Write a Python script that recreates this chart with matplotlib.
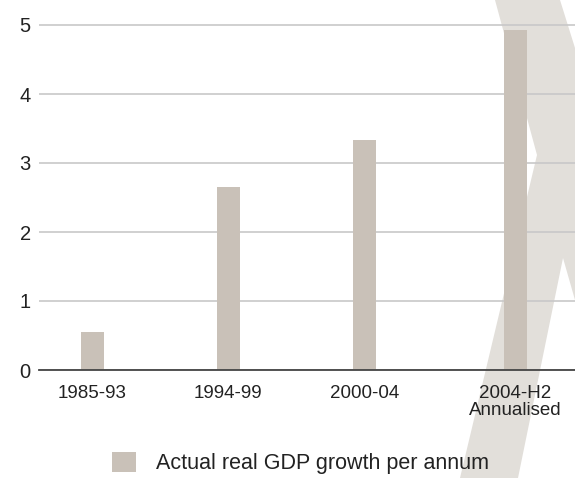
import matplotlib
matplotlib.use("Agg")
import matplotlib.pyplot as plt
from matplotlib.patches import Polygon

PERIODS = ["1985-93", "1994-99", "2000-04", "2004-H2\nAnnualised"]
GROWTH = [0.55, 2.65, 3.33, 4.93]
SERIES = "Actual real GDP growth per annum"

# last category sits a little further right in the original
POS = [0, 1, 2, 3.11]

BAR = "#c9c1b8"
SHAPE = "#e2dfda"
GRID = "#c8c8c8"
INK = "#222222"

plt.rcParams["font.family"] = ["Liberation Sans", "DejaVu Sans"]

W, H = 575, 478
fig = plt.figure(figsize=(W / 100, H / 100), dpi=100)

# background chevron, pixel outline converted to figure fraction
pts = [(495, 0), (560, 0), (575, 48), (575, 300), (563, 258),
       (518, 478), (460, 478), (537, 155)]
poly = Polygon([(x / W, 1 - y / H) for x, y in pts], closed=True,
               transform=fig.transFigure, facecolor=SHAPE, edgecolor="none",
               zorder=-1)
fig.add_artist(poly)

ax = fig.add_axes([39 / W, 1 - 370 / H, 1 - 39 / W, 370 / H])
ax.set_facecolor("none")

bars = ax.bar(POS, GROWTH, width=0.169, color=BAR, zorder=3, label=SERIES)

ax.set_xlim(-0.394, 3.551)
ax.set_ylim(0, 370 / 69)
ax.set_yticks(range(0, 6))
ax.set_xticks(POS)
ax.set_xticklabels(PERIODS, fontsize=13.5, color=INK, linespacing=0.95)
ax.tick_params(axis="x", length=0, pad=11)
ax.tick_params(axis="y", length=0, pad=6, labelsize=14.5, labelcolor=INK)

ax.yaxis.grid(True, color=GRID, linewidth=1.2, zorder=0)
ax.set_axisbelow(True)
for s in ["top", "right", "left"]:
    ax.spines[s].set_visible(False)
ax.spines["bottom"].set_color("#444444")
ax.spines["bottom"].set_linewidth(1.3)
ax.spines["bottom"].set_zorder(4)

leg = ax.legend(loc="center left", bbox_to_anchor=(112 / W, 1 - 463 / H),
                bbox_transform=fig.transFigure, frameon=False, fontsize=15.5,
                handlelength=1.1, handleheight=1.05, handletextpad=0.95,
                borderpad=0, borderaxespad=0)
for t in leg.get_texts():
    t.set_color(INK)

fig.savefig("out.png", dpi=100, facecolor="white")
